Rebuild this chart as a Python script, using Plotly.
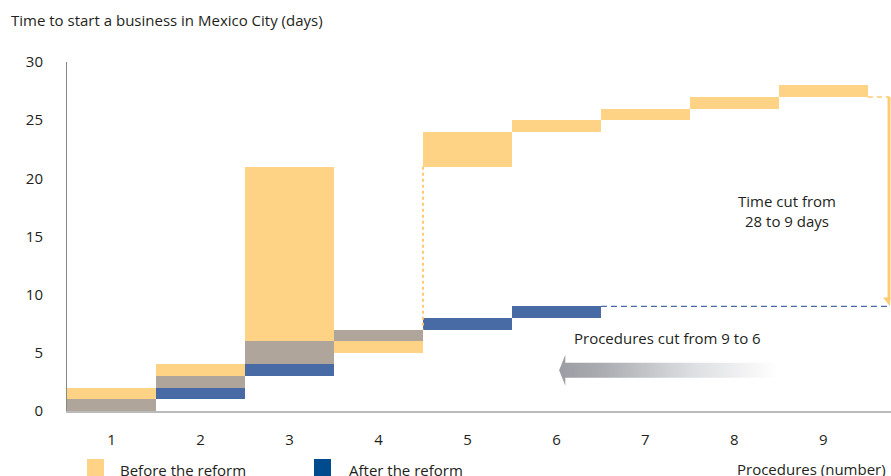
import plotly.graph_objects as go

procedures = [1, 2, 3, 4, 5, 6, 7, 8, 9]
before_low = [0, 2, 4, 5, 21, 24, 25, 26, 27]
before_high = [2, 4, 21, 7, 24, 25, 26, 27, 28]
after_procs = [1, 2, 3, 4, 5, 6]
after_low = [0, 1, 3, 6, 7, 8]
after_high = [1, 3, 6, 7, 8, 9]
y_ticks = [0, 5, 10, 15, 20, 25, 30]

YELLOW = "#FED386"
LINE_Y = "#FDCB72"
BLUE = "#496BA5"
GRAY = "#AFA59A"
NAVY = "#004B8D"
TXT = "#231F20"
FONT = "Open Sans"
FS = 15

# overlap of before/after
ov_x, ov_base, ov_h = [], [], []
for p, lo, hi in zip(after_procs, after_low, after_high):
    i = procedures.index(p)
    a = max(lo, before_low[i])
    b = min(hi, before_high[i])
    if b > a:
        ov_x.append(p); ov_base.append(a); ov_h.append(b - a)

fig = go.Figure()
fig.add_trace(go.Bar(x=procedures, y=[h - l for l, h in zip(before_low, before_high)],
                     base=before_low, width=1, marker=dict(color=YELLOW, line=dict(width=0)),
                     name="Before the reform", showlegend=False))
fig.add_trace(go.Bar(x=after_procs, y=[h - l for l, h in zip(after_low, after_high)],
                     base=after_low, width=1, marker=dict(color=BLUE, line=dict(width=0)),
                     name="After the reform", showlegend=False))
fig.add_trace(go.Bar(x=ov_x, y=ov_h, base=ov_base, width=1,
                     marker=dict(color=GRAY, line=dict(width=0)), showlegend=False))

# gradient arrow (procedures cut)
ax0, ax1, axh = 6.03, 8.48, 6.10
yc, bh, hh = 3.5, 0.64, 1.33
fig.add_trace(go.Scatter(
    x=[ax0, axh, axh, ax1, ax1, axh, axh, ax0],
    y=[yc, yc + hh, yc + bh, yc + bh, yc - bh, yc - bh, yc - hh, yc],
    mode="lines", line=dict(width=0), fill="toself",
    fillgradient=dict(type="horizontal",
                      colorscale=[[0, "#9c9ca4"], [0.2, "#abacb1"], [0.6, "#dcdde0"], [1, "#ffffff"]]),
    hoverinfo="skip", showlegend=False))

x_arrow = 9.738
# dashed / dotted guide lines
fig.add_shape(type="line", x0=4.5, x1=4.5, y0=before_low[4], y1=after_low[4],
              line=dict(color=LINE_Y, width=2, dash="3px,3px"))
fig.add_shape(type="line", x0=6.5, x1=x_arrow + 0.01, y0=after_high[-1], y1=after_high[-1],
              line=dict(color=BLUE, width=1.2, dash="6px,4px"))
fig.add_shape(type="line", x0=9.5, x1=x_arrow, y0=before_low[-1], y1=before_low[-1],
              line=dict(color=LINE_Y, width=1.5, dash="5px,4px"))
# vertical "time cut" arrow
fig.add_shape(type="line", x0=x_arrow, x1=x_arrow, y0=before_low[-1], y1=after_high[-1] + 0.6,
              line=dict(color=LINE_Y, width=3))
fig.add_shape(type="path",
              path=f"M {x_arrow-0.068},{after_high[-1]+0.75} L {x_arrow+0.017},{after_high[-1]+0.75} "
                   f"L {x_arrow+0.01},{after_high[-1]} Z",
              fillcolor=LINE_Y, line=dict(width=0))

fig.add_annotation(x=8.59, y=17.2, xref="x", yref="y", text="Time cut from<br>28 to 9 days",
                   showarrow=False, font=dict(family=FONT, size=FS, color=TXT), align="center")
fig.add_annotation(x=7.25, y=6.3, xref="x", yref="y", text="Procedures cut from 9 to 6",
                   showarrow=False, font=dict(family=FONT, size=FS, color=TXT))

# layout geometry in window pixels
W, H = 824, 349
def px(xp): return (xp - 67) / W
def py(yp): return (411 - yp) / H

# title
fig.add_annotation(x=px(9), y=py(20), xref="paper", yref="paper", xanchor="left", yanchor="middle",
                   text="Time to start a business in Mexico City (days)", showarrow=False,
                   font=dict(family=FONT, size=FS, color=TXT))

# legend
fig.add_shape(type="rect", xref="paper", yref="paper", x0=px(87), x1=px(104), y0=py(459), y1=py(476),
              fillcolor=YELLOW, line=dict(width=0))
fig.add_shape(type="rect", xref="paper", yref="paper", x0=px(314), x1=px(331), y0=py(459), y1=py(476),
              fillcolor=NAVY, line=dict(width=0))
fig.add_annotation(x=px(118), y=py(470), xref="paper", yref="paper", xanchor="left", yanchor="middle",
                   text="Before the reform", showarrow=False, font=dict(family=FONT, size=FS, color=TXT))
fig.add_annotation(x=px(347), y=py(470), xref="paper", yref="paper", xanchor="left", yanchor="middle",
                   text="After the reform", showarrow=False, font=dict(family=FONT, size=FS, color=TXT))
fig.add_annotation(x=px(735), y=py(469), xref="paper", yref="paper", xanchor="left", yanchor="middle",
                   text="Procedures (number)", showarrow=False, font=dict(family=FONT, size=FS, color=TXT))

fig.update_layout(
    width=891, height=476, margin=dict(l=67, r=0, t=62, b=65),
    paper_bgcolor="white", plot_bgcolor="white", barmode="overlay", bargap=0,
    font=dict(family=FONT, size=FS, color=TXT),
    xaxis=dict(range=[0.5, 9.76], tickvals=procedures, ticktext=[str(p) for p in procedures],
               showgrid=False, zeroline=False, showline=True, linecolor="#BBBBBB", linewidth=2,
               ticks="outside", ticklen=14, tickcolor="rgba(0,0,0,0)", fixedrange=True),
    yaxis=dict(range=[0, 30], tickvals=y_ticks, showgrid=False, zeroline=False,
               showline=True, linecolor="#888888", linewidth=1,
               ticks="outside", ticklen=20, tickcolor="rgba(0,0,0,0)", fixedrange=True),
)

fig.write_html("out.html", config={"displayModeBar": False},
               post_script="document.body.style.margin='0';document.body.style.overflow='hidden';")
